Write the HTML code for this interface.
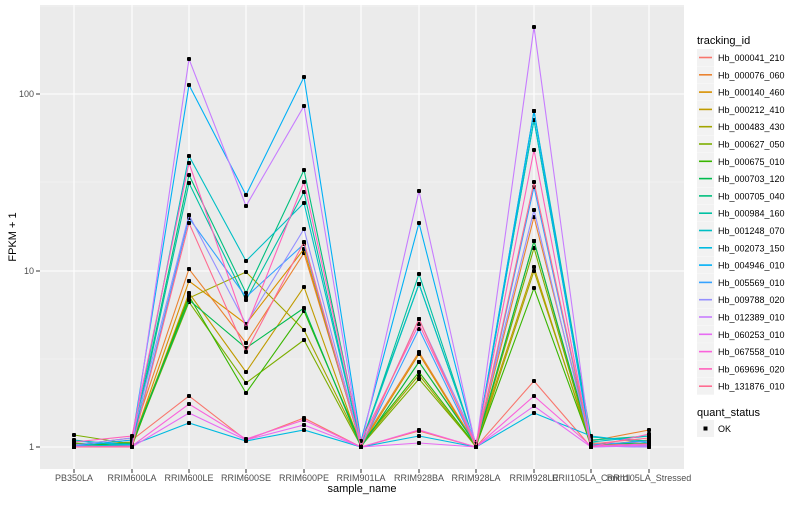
<!DOCTYPE html>
<html><head><meta charset="utf-8"><style>
body{margin:0;background:#fff}
text{font-family:"Liberation Sans",sans-serif}
.lg line{stroke-width:1.6}
</style></head><body>
<svg width="800" height="500" xmlns="http://www.w3.org/2000/svg">
<defs><marker id="m" viewBox="0 0 4 4" refX="2" refY="2" markerWidth="4" markerHeight="4" markerUnits="userSpaceOnUse"><rect width="4" height="4" rx="1" fill="#000"/></marker></defs>
<rect x="40" y="5" width="644" height="464" fill="#ebebeb"/>
<g stroke="#f5f5f5" stroke-width="0.6"><line x1="40" x2="684" y1="359" y2="359"/><line x1="40" x2="684" y1="182" y2="182"/><line x1="40" x2="684" y1="6" y2="6"/></g>
<g stroke="#fff" stroke-width="1.1">
<line x1="40" x2="684" y1="447" y2="447"/><line x1="40" x2="684" y1="271" y2="271"/><line x1="40" x2="684" y1="94" y2="94"/>
<line x1="74" x2="74" y1="5" y2="469"/><line x1="132" x2="132" y1="5" y2="469"/><line x1="189" x2="189" y1="5" y2="469"/><line x1="246" x2="246" y1="5" y2="469"/><line x1="304" x2="304" y1="5" y2="469"/><line x1="361" x2="361" y1="5" y2="469"/><line x1="419" x2="419" y1="5" y2="469"/><line x1="476" x2="476" y1="5" y2="469"/><line x1="534" x2="534" y1="5" y2="469"/><line x1="591" x2="591" y1="5" y2="469"/><line x1="649" x2="649" y1="5" y2="469"/>
</g>
<g fill="none" stroke-width="1.1" marker-start="url(#m)" marker-mid="url(#m)" marker-end="url(#m)">
<polyline stroke="#F8766D" points="74,446 132,440 189,396 246,440 304,418 361,447 419,431 476,447 534,381 591,447 649,441"/>
<polyline stroke="#EA8331" points="74,445 132,438 189,269 246,343 304,253 361,444 419,352 476,445 534,217 591,441 649,430"/>
<polyline stroke="#D89000" points="74,447 132,444 189,281 246,324 304,249 361,446 419,354 476,446 534,241 591,446 649,440"/>
<polyline stroke="#C09B00" points="74,444 132,446 189,293 246,372 304,287 361,447 419,362 476,444 534,267 591,447 649,443"/>
<polyline stroke="#A3A500" points="74,446 132,442 189,298 246,272 304,330 361,445 419,375 476,447 534,271 591,444 649,446"/>
<polyline stroke="#7CAE00" points="74,435 132,444 189,302 246,383 304,340 361,446 419,379 476,446 534,248 591,446 649,445"/>
<polyline stroke="#39B600" points="74,443 132,446 189,296 246,393 304,311 361,444 419,372 476,446 534,288 591,445 649,446"/>
<polyline stroke="#00BB4E" points="74,445 132,443 189,300 246,348 304,308 361,447 419,362 476,445 534,241 591,443 649,444"/>
<polyline stroke="#00BF7D" points="74,446 132,445 189,175 246,293 304,170 361,443 419,284 476,446 534,120 591,440 649,436"/>
<polyline stroke="#00C1A3" points="74,440 132,446 189,183 246,300 304,192 361,446 419,274 476,447 534,111 591,437 649,441"/>
<polyline stroke="#00BFC4" points="74,447 132,444 189,156 246,261 304,203 361,445 419,284 476,446 534,120 591,442 649,436"/>
<polyline stroke="#00BAE0" points="74,441 132,445 189,423 246,441 304,430 361,447 419,436 476,447 534,413 591,436 649,443"/>
<polyline stroke="#00B0F6" points="74,446 132,440 189,85 246,195 304,77 361,441 419,223 476,446 534,111 591,446 649,447"/>
<polyline stroke="#35A2FF" points="74,447 132,446 189,218 246,297 304,244 361,447 419,329 476,447 534,187 591,445 649,441"/>
<polyline stroke="#9590FF" points="74,445 132,438 189,215 246,324 304,229 361,446 419,319 476,442 534,210 591,447 649,446"/>
<polyline stroke="#C77CFF" points="74,446 132,447 189,59 246,206 304,106 361,446 419,191 476,447 534,27 591,446 649,447"/>
<polyline stroke="#E76BF3" points="74,447 132,447 189,413 246,440 304,425 361,447 419,443 476,447 534,406 591,447 649,445"/>
<polyline stroke="#FA62DB" points="74,447 132,446 189,404 246,439 304,420 361,447 419,430 476,447 534,396 591,446 649,444"/>
<polyline stroke="#FF62BC" points="74,442 132,436 189,163 246,328 304,182 361,441 419,324 476,444 534,150 591,447 649,434"/>
<polyline stroke="#FF6C91" points="74,447 132,447 189,223 246,352 304,242 361,447 419,319 476,447 534,182 591,444 649,438"/>
</g>
<g stroke="#333" stroke-width="1"><line x1="36" x2="40" y1="447" y2="447"/><line x1="36" x2="40" y1="271" y2="271"/><line x1="36" x2="40" y1="94" y2="94"/>
<line x1="74" x2="74" y1="469" y2="473"/><line x1="132" x2="132" y1="469" y2="473"/><line x1="189" x2="189" y1="469" y2="473"/><line x1="246" x2="246" y1="469" y2="473"/><line x1="304" x2="304" y1="469" y2="473"/><line x1="361" x2="361" y1="469" y2="473"/><line x1="419" x2="419" y1="469" y2="473"/><line x1="476" x2="476" y1="469" y2="473"/><line x1="534" x2="534" y1="469" y2="473"/><line x1="591" x2="591" y1="469" y2="473"/><line x1="649" x2="649" y1="469" y2="473"/></g>
<g font-size="9" fill="#4d4d4d" text-anchor="end"><text x="34" y="450">1</text><text x="34" y="274">10</text><text x="34" y="97">100</text></g>
<g font-size="9" fill="#4d4d4d" text-anchor="middle">
<text x="74" y="481">PB350LA</text><text x="132" y="481">RRIM600LA</text><text x="189" y="481">RRIM600LE</text><text x="246" y="481">RRIM600SE</text><text x="304" y="481">RRIM600PE</text><text x="361" y="481">RRIM901LA</text><text x="419" y="481">RRIM928BA</text><text x="476" y="481">RRIM928LA</text><text x="534" y="481">RRIM928LE</text><text x="591" y="481">RRII105LA_Control</text><text x="649" y="481">RRII105LA_Stressed</text></g>
<text x="362" y="492" font-size="11" text-anchor="middle">sample_name</text>
<text transform="translate(16,237) rotate(-90)" font-size="11" text-anchor="middle">FPKM + 1</text>
<text x="697" y="44" font-size="11">tracking_id</text>
<g font-size="9" class="lg">
<g transform="translate(697,49)"><rect width="17" height="17" fill="#f2f2f2"/><line x1="2" x2="15" y1="8.5" y2="8.5" stroke="#F8766D"/><text x="21" y="12">Hb_000041_210</text></g>
<g transform="translate(697,66.3)"><rect width="17" height="17" fill="#f2f2f2"/><line x1="2" x2="15" y1="8.5" y2="8.5" stroke="#EA8331"/><text x="21" y="12">Hb_000076_060</text></g>
<g transform="translate(697,83.6)"><rect width="17" height="17" fill="#f2f2f2"/><line x1="2" x2="15" y1="8.5" y2="8.5" stroke="#D89000"/><text x="21" y="12">Hb_000140_460</text></g>
<g transform="translate(697,100.9)"><rect width="17" height="17" fill="#f2f2f2"/><line x1="2" x2="15" y1="8.5" y2="8.5" stroke="#C09B00"/><text x="21" y="12">Hb_000212_410</text></g>
<g transform="translate(697,118.2)"><rect width="17" height="17" fill="#f2f2f2"/><line x1="2" x2="15" y1="8.5" y2="8.5" stroke="#A3A500"/><text x="21" y="12">Hb_000483_430</text></g>
<g transform="translate(697,135.5)"><rect width="17" height="17" fill="#f2f2f2"/><line x1="2" x2="15" y1="8.5" y2="8.5" stroke="#7CAE00"/><text x="21" y="12">Hb_000627_050</text></g>
<g transform="translate(697,152.8)"><rect width="17" height="17" fill="#f2f2f2"/><line x1="2" x2="15" y1="8.5" y2="8.5" stroke="#39B600"/><text x="21" y="12">Hb_000675_010</text></g>
<g transform="translate(697,170.1)"><rect width="17" height="17" fill="#f2f2f2"/><line x1="2" x2="15" y1="8.5" y2="8.5" stroke="#00BB4E"/><text x="21" y="12">Hb_000703_120</text></g>
<g transform="translate(697,187.4)"><rect width="17" height="17" fill="#f2f2f2"/><line x1="2" x2="15" y1="8.5" y2="8.5" stroke="#00BF7D"/><text x="21" y="12">Hb_000705_040</text></g>
<g transform="translate(697,204.7)"><rect width="17" height="17" fill="#f2f2f2"/><line x1="2" x2="15" y1="8.5" y2="8.5" stroke="#00C1A3"/><text x="21" y="12">Hb_000984_160</text></g>
<g transform="translate(697,222)"><rect width="17" height="17" fill="#f2f2f2"/><line x1="2" x2="15" y1="8.5" y2="8.5" stroke="#00BFC4"/><text x="21" y="12">Hb_001248_070</text></g>
<g transform="translate(697,239.3)"><rect width="17" height="17" fill="#f2f2f2"/><line x1="2" x2="15" y1="8.5" y2="8.5" stroke="#00BAE0"/><text x="21" y="12">Hb_002073_150</text></g>
<g transform="translate(697,256.6)"><rect width="17" height="17" fill="#f2f2f2"/><line x1="2" x2="15" y1="8.5" y2="8.5" stroke="#00B0F6"/><text x="21" y="12">Hb_004946_010</text></g>
<g transform="translate(697,273.9)"><rect width="17" height="17" fill="#f2f2f2"/><line x1="2" x2="15" y1="8.5" y2="8.5" stroke="#35A2FF"/><text x="21" y="12">Hb_005569_010</text></g>
<g transform="translate(697,291.2)"><rect width="17" height="17" fill="#f2f2f2"/><line x1="2" x2="15" y1="8.5" y2="8.5" stroke="#9590FF"/><text x="21" y="12">Hb_009788_020</text></g>
<g transform="translate(697,308.5)"><rect width="17" height="17" fill="#f2f2f2"/><line x1="2" x2="15" y1="8.5" y2="8.5" stroke="#C77CFF"/><text x="21" y="12">Hb_012389_010</text></g>
<g transform="translate(697,325.8)"><rect width="17" height="17" fill="#f2f2f2"/><line x1="2" x2="15" y1="8.5" y2="8.5" stroke="#E76BF3"/><text x="21" y="12">Hb_060253_010</text></g>
<g transform="translate(697,343.1)"><rect width="17" height="17" fill="#f2f2f2"/><line x1="2" x2="15" y1="8.5" y2="8.5" stroke="#FA62DB"/><text x="21" y="12">Hb_067558_010</text></g>
<g transform="translate(697,360.4)"><rect width="17" height="17" fill="#f2f2f2"/><line x1="2" x2="15" y1="8.5" y2="8.5" stroke="#FF62BC"/><text x="21" y="12">Hb_069696_020</text></g>
<g transform="translate(697,377.7)"><rect width="17" height="17" fill="#f2f2f2"/><line x1="2" x2="15" y1="8.5" y2="8.5" stroke="#FF6C91"/><text x="21" y="12">Hb_131876_010</text></g>
</g>
<text x="697" y="416" font-size="11">quant_status</text>
<g transform="translate(697,420)"><rect width="17" height="17" fill="#f2f2f2"/><rect x="6.5" y="6.5" width="4" height="4" fill="#000"/><text x="21" y="12" font-size="9">OK</text></g>
</svg>
</body></html>
